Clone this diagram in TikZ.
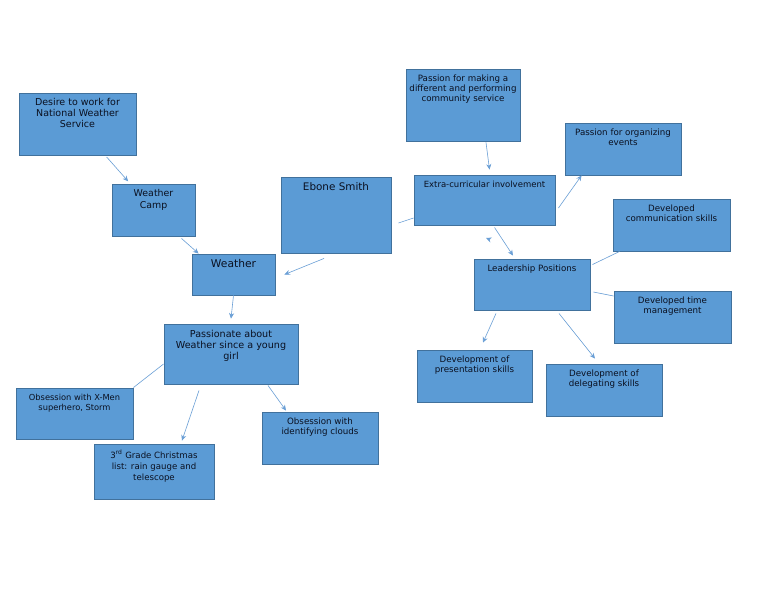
\documentclass[tikz,border=0pt]{standalone}
\usepackage{fontspec}
\setmainfont{DejaVu Sans}
\usetikzlibrary{arrows.meta}

\definecolor{boxfill}{HTML}{5B9BD5}
\definecolor{boxedge}{HTML}{41719C}
\definecolor{linkblue}{HTML}{6A9FD6}
\definecolor{boxink}{HTML}{0A1020}

\tikzset{
  box/.style={draw=boxedge, fill=boxfill, line width=0.9pt, inner sep=0pt},
  boxtext/.style={anchor=north, align=center, inner sep=3.5pt, yshift=-2.5pt, text=boxink},
  conn/.style={draw=linkblue, line width=0.6pt, -{Stealth[length=5.5pt,width=5pt]}},
  link/.style={draw=linkblue, line width=0.6pt}
}

\begin{document}
\begin{tikzpicture}[x=1pt, y=-1pt]
	\useasboundingbox[fill=white] (0,0) rectangle (768,594);
	% left branch
	\node[box, minimum width=117pt, minimum height=62pt, label={[boxtext, font=\fontsize{9.5}{11}\selectfont]north:{Desire to work for\\National Weather\\Service}}] (desire) at (77.5,124) {};
	\node[box, minimum width=83pt, minimum height=52pt, label={[boxtext, font=\fontsize{9.4}{12}\selectfont]north:{Weather\\Camp}}] (camp) at (153.5,210) {};
	\node[box, minimum width=110pt, minimum height=76pt, label={[boxtext, font=\fontsize{10.4}{12}\selectfont]north:{Ebone Smith}}] (ebone) at (336,215) {};
	\node[box, minimum width=83pt, minimum height=41pt, label={[boxtext, font=\fontsize{10.7}{12}\selectfont]north:{Weather}}] (weather) at (233.5,274.5) {};
	\node[box, minimum width=134pt, minimum height=60pt, label={[boxtext, font=\fontsize{9.6}{11}\selectfont]north:{Passionate about\\Weather since a young\\girl}}] (passion) at (231,354) {};
	\node[box, minimum width=117pt, minimum height=51pt, label={[boxtext, font=\fontsize{8.3}{10}\selectfont]north:{Obsession with X-Men\\superhero, Storm}}] (xmen) at (74.5,413.5) {};
	\node[box, minimum width=120pt, minimum height=55pt, label={[boxtext, font=\fontsize{8.6}{11}\selectfont]north:{3\textsuperscript{rd} Grade Christmas\\list: rain gauge and\\telescope}}] (grade) at (154,471.5) {};
	\node[box, minimum width=116pt, minimum height=52pt, label={[boxtext, font=\fontsize{8.7}{10}\selectfont]north:{Obsession with\\identifying clouds}}] (clouds) at (320,438) {};
	% right branch
	\node[box, minimum width=114pt, minimum height=72pt, label={[boxtext, font=\fontsize{8.7}{10}\selectfont]north:{Passion for making a\\different and performing\\community service}}] (making) at (463,105) {};
	\node[box, minimum width=141pt, minimum height=50pt, label={[boxtext, font=\fontsize{8.5}{10}\selectfont]north:{Extra-curricular involvement}}] (extra) at (484.5,200) {};
	\node[box, minimum width=116pt, minimum height=52pt, label={[boxtext, font=\fontsize{8.7}{10}\selectfont]north:{Passion for organizing\\events}}] (organize) at (623,149) {};
	\node[box, minimum width=117pt, minimum height=52pt, label={[boxtext, font=\fontsize{8.7}{10}\selectfont]north:{Developed\\communication skills}}] (comm) at (671.5,225) {};
	\node[box, minimum width=116pt, minimum height=51pt, label={[boxtext, font=\fontsize{8.7}{10}\selectfont]north:{Leadership Positions}}] (lead) at (532,284.5) {};
	\node[box, minimum width=117pt, minimum height=52pt, label={[boxtext, font=\fontsize{8.7}{10}\selectfont]north:{Developed time\\management}}] (timemgmt) at (672.5,317) {};
	\node[box, minimum width=115pt, minimum height=52pt, label={[boxtext, font=\fontsize{8.7}{10}\selectfont]north:{Development of\\presentation skills}}] (present) at (474.5,376) {};
	\node[box, minimum width=116pt, minimum height=52pt, label={[boxtext, font=\fontsize{8.7}{10}\selectfont]north:{Development of\\delegating skills}}] (delegate) at (604,390) {};
	% connectors
	\draw[conn, shorten <=2pt, shorten >=3pt] (desire) -- (camp);
	\draw[conn] ([xshift=28pt,yshift=-2pt]camp.south) -- ([xshift=7pt]weather.north west);
	\draw[conn] ([xshift=-12pt,yshift=-5pt]ebone.south) -- ([xshift=9pt]weather.east);
	\draw[conn] (weather.south) -- ([yshift=5pt]passion.north);
	\draw[link] ([yshift=-10pt]passion.west) -- (xmen.north east);
	\draw[conn] ([xshift=-32pt,yshift=-6pt]passion.south) -- ([xshift=28pt,yshift=3pt]grade.north);
	\draw[conn] ([xshift=37pt,yshift=-1pt]passion.south) -- ([xshift=-34pt,yshift=1pt]clouds.north);
	\draw[link] ([xshift=7pt,yshift=-8pt]ebone.east) -- ([yshift=-18pt]extra.west);
	\draw[conn] ([xshift=23pt,yshift=-1pt]making.south) -- ([xshift=5pt,yshift=5pt]extra.north);
	\draw[conn] ([xshift=3pt,yshift=-8pt]extra.east) -- ([xshift=17pt]organize.south west);
	\draw[conn] ([xshift=10pt,yshift=-2pt]extra.south) -- ([xshift=-19pt,yshift=3pt]lead.north);
	\coordinate (stray) at (490,239.5);
	\draw[conn] (stray) -- ++(-4,-1.5);
	\draw[link] ([xshift=2pt,yshift=-6pt]lead.north east) -- ([xshift=7pt]comm.south west);
	\draw[link] ([xshift=3pt,yshift=-7.5pt]lead.east) -- ([yshift=21pt]timemgmt.west);
	\draw[conn] ([xshift=-36pt,yshift=-3pt]lead.south) -- ([xshift=8.5pt,yshift=7pt]present.north);
	\draw[conn] ([xshift=27pt,yshift=-3pt]lead.south) -- ([xshift=-9pt,yshift=5pt]delegate.north);
\end{tikzpicture}
\end{document}
